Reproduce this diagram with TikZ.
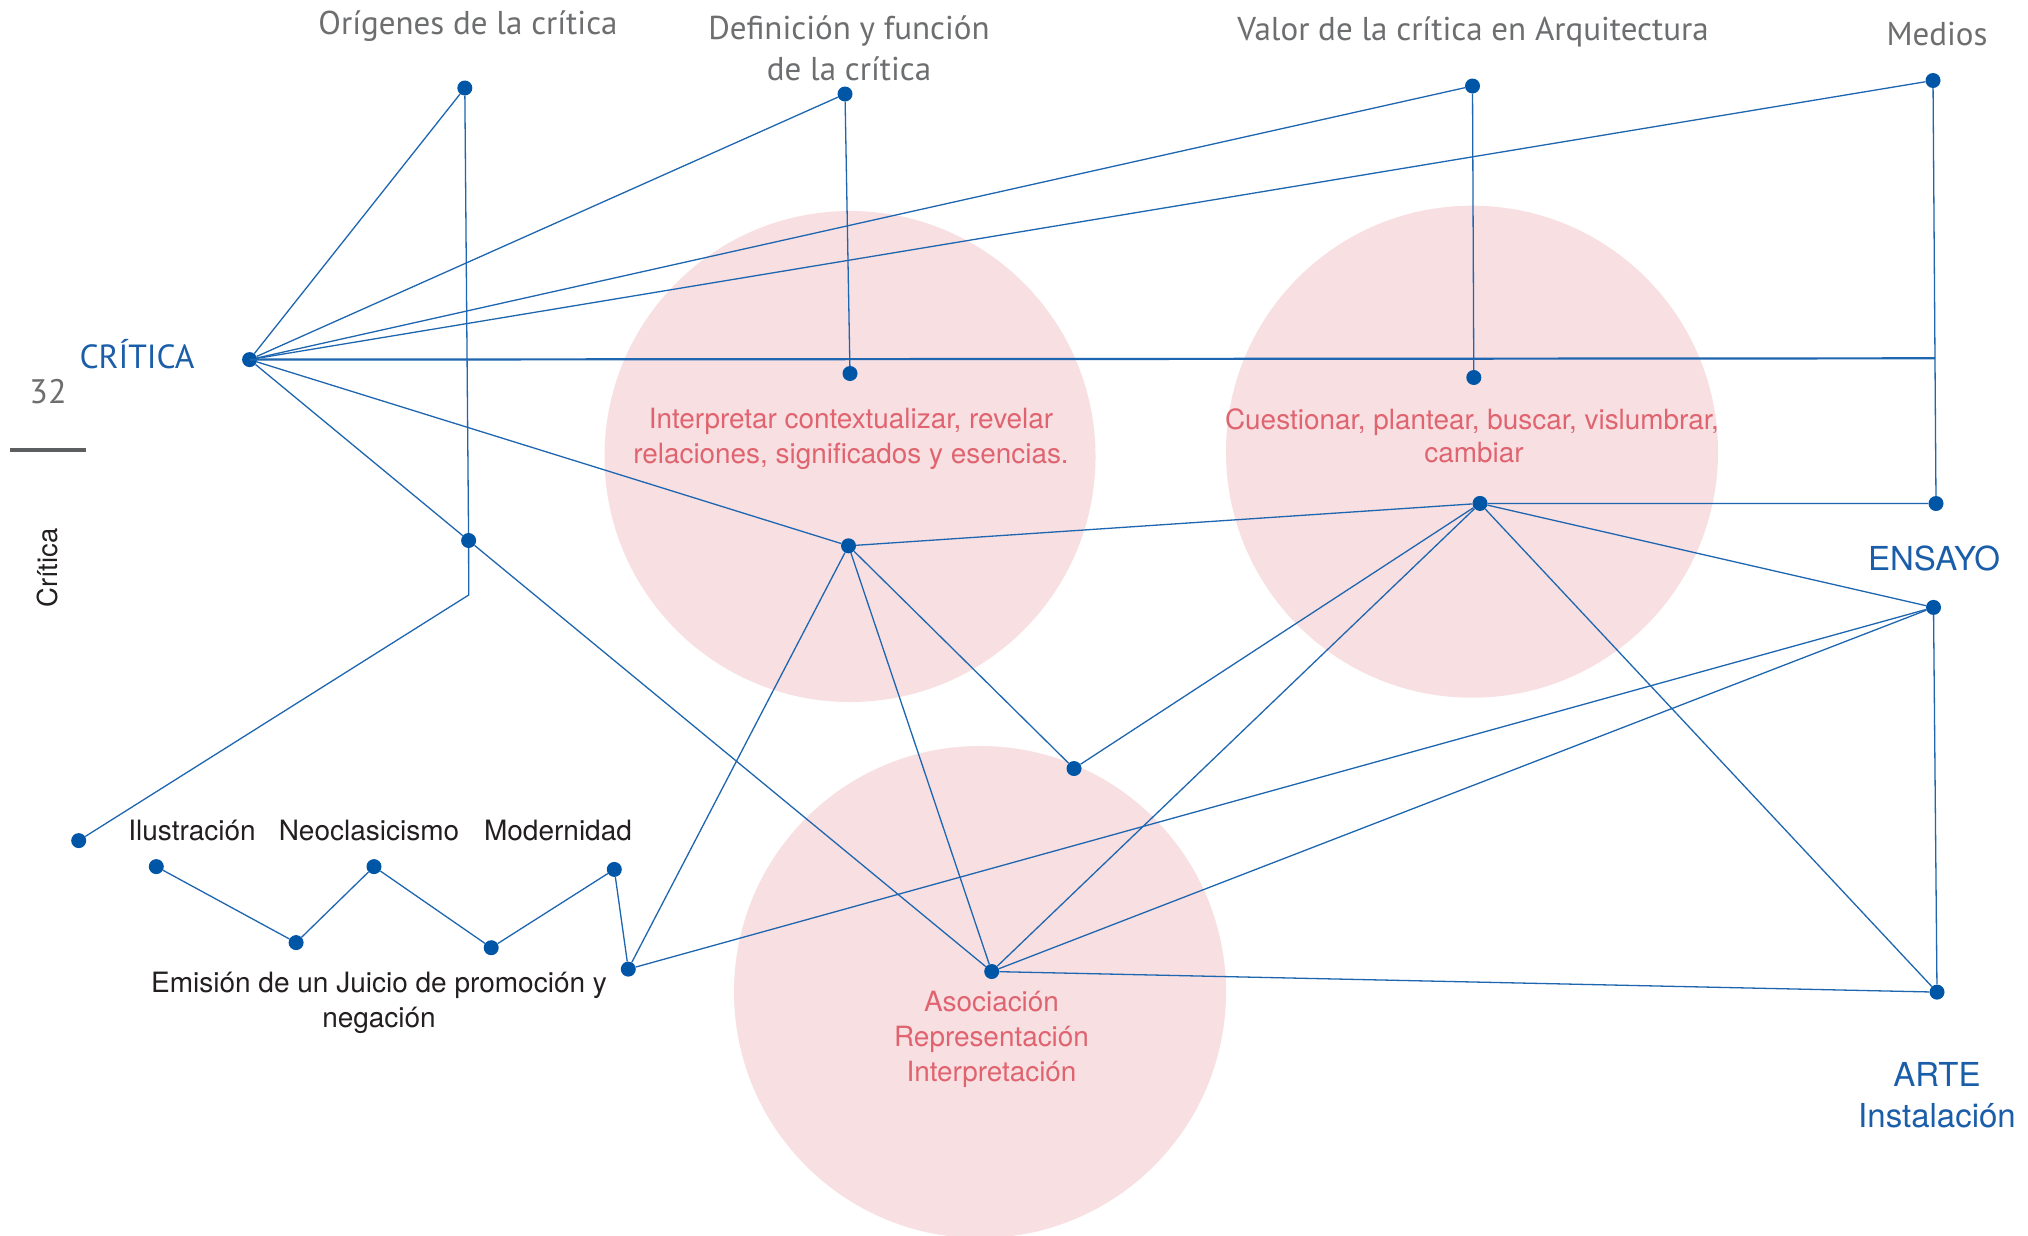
\documentclass[tikz,border=0pt]{standalone}
\usepackage{fontspec}
\setmainfont{TeX Gyre Heros}
\newfontfamily\myr{PT Sans}
\definecolor{lineblue}{HTML}{1E66B0}
\definecolor{dotblue}{HTML}{0056A6}
\definecolor{txtblue}{HTML}{1A5DA8}
\definecolor{titlegray}{HTML}{6D6E70}
\definecolor{pinkfill}{HTML}{F7DFE2}
\definecolor{pinktxt}{HTML}{E0646F}
\definecolor{bodytxt}{HTML}{231F20}
\tikzset{
  dot/.style={circle,fill=dotblue,inner sep=0pt,minimum size=15pt},
  link/.style={draw=lineblue,line width=1.3pt},
  mainlink/.style={draw=lineblue,line width=2.2pt},
  bubble/.style={fill=pinkfill},
  title/.style={anchor=base,inner sep=0pt,text=titlegray,font=\myr\fontsize{33}{39}\selectfont},
  bluebig/.style={anchor=base,inner sep=0pt,text=txtblue,font=\myr\fontsize{33.5}{39}\selectfont},
  bluelabel/.style={anchor=base,inner sep=0pt,text=txtblue,font=\fontsize{33}{39}\selectfont},
  bodylabel/.style={anchor=base,inner sep=0pt,text=bodytxt,font=\fontsize{28}{33}\selectfont},
  bubbletxt/.style={anchor=base,inner sep=0pt,text=pinktxt,font=\fontsize{27.9}{33}\selectfont}
}
\begin{document}
\begin{tikzpicture}[x=1pt,y=-1pt]
\useasboundingbox (0,0) rectangle (2028,1235);
\fill[white] (0,0) rectangle (2028,1235);

% circles
\fill[bubble] (850,456.5) circle (245.5);
\fill[bubble] (1472,451.7) circle (246);
\fill[bubble] (980,992) circle (246);

% page marks
\node[anchor=base,inner sep=0pt,text=titlegray,font=\myr\fontsize{34}{40}\selectfont] (pnum) at (48,403) {32};
\fill[titlegray!85!black] (10,448) rectangle (86,452);
\node[anchor=base,inner sep=0pt,rotate=90,text=bodytxt,font=\fontsize{27.5}{33}\selectfont] (sect) at (57,568) {Crítica};

% dots
\node[dot] (crit) at (249.6,359.6) {};
\node[dot] (orig) at (464.8,88) {};
\node[dot] (def) at (845,94) {};
\node[dot] (val) at (1472.5,86) {};
\node[dot] (med) at (1933,80.5) {};
\node[dot] (deflow) at (850,373.5) {};
\node[dot] (vallow) at (1473.8,377.5) {};
\node[dot] (medlow) at (1936,503.5) {};
\node[dot] (origmid) at (468.6,540.5) {};
\coordinate (bend) at (468.7,595);
\coordinate (hend) at (1935,358.3);
\node[dot] (leftdot) at (78.7,840.6) {};
\node[dot] (A) at (848.5,545.8) {};
\node[dot] (B) at (1480,503.4) {};
\node[dot] (C) at (1074,768.5) {};
\node[dot] (asoc) at (991.7,971.5) {};
\node[dot] (ens) at (1933.5,607.4) {};
\node[dot] (arte) at (1937,992.1) {};
\node[dot] (z1) at (156.3,866.6) {};
\node[dot] (z2) at (296.1,942.6) {};
\node[dot] (z3) at (374,866.6) {};
\node[dot] (z4) at (491.2,947.7) {};
\node[dot] (z5) at (614.3,869.4) {};
\node[dot] (em) at (628.3,969.1) {};

% connectors
\draw[mainlink] (crit.center) -- (hend);
\draw[link] (crit) -- (orig);
\draw[link] (crit) -- (def);
\draw[link] (crit) -- (val);
\draw[link] (crit) -- (med);
\draw[link] (crit) -- (origmid);
\draw[link] (origmid) -- (asoc);
\draw[link] (crit) -- (A);
\draw[link] (orig) -- (origmid);
\draw[link] (origmid) -- (bend) -- (leftdot);
\draw[link] (def) -- (deflow);
\draw[link] (val) -- (vallow);
\draw[link] (med) -- (medlow);
\draw[link] (A) -- (B);
\draw[link] (A) -- (em);
\draw[link] (A) -- (asoc);
\draw[link] (A) -- (C);
\draw[link] (B) -- (medlow);
\draw[link] (B) -- (ens);
\draw[link] (B) -- (C);
\draw[link] (B) -- (asoc);
\draw[link] (B) -- (arte);
\draw[link] (ens) -- (em);
\draw[link] (ens) -- (asoc);
\draw[link] (ens) -- (arte);
\draw[link] (asoc) -- (arte);
\draw[link] (z1) -- (z2) -- (z3) -- (z4) -- (z5) -- (em);

% titles
\node[title] (t1) at (468,34) {Orígenes de la crítica};
\node[title] (t2a) at (849,39) {Definición y función};
\node[title] (t2b) at (849,80) {de la crítica};
\node[title] (t3) at (1473,40) {Valor de la crítica en Arquitectura};
\node[title] (t4) at (1937,45) {Medios};

% blue labels
\node[bluebig] (lcrit) at (137,368) {CRÍTICA};
\node[bluelabel] (lens) at (1934,570) {ENSAYO};
\node[bluelabel] (larte) at (1937,1086.5) {ARTE};
\node[bluelabel] (linst) at (1937,1127.6) {Instalación};

% bubble texts
\node[bubbletxt] (b1a) at (851,428.5) {Interpretar contextualizar, revelar};
\node[bubbletxt] (b1b) at (851,463) {relaciones, significados y esencias.};
\node[bubbletxt] (b2a) at (1472,429) {Cuestionar, plantear, buscar, vislumbrar,};
\node[bubbletxt] (b2b) at (1474,462.5) {cambiar};
\node[bubbletxt] (b3a) at (991.5,1011) {Asociación};
\node[bubbletxt] (b3b) at (991.5,1046) {Representación};
\node[bubbletxt] (b3c) at (991.5,1081.5) {Interpretación};

% body labels
\node[bodylabel] (lilu) at (192,840) {Ilustración};
\node[bodylabel] (lneo) at (369,840) {Neoclasicismo};
\node[bodylabel] (lmod) at (558,840) {Modernidad};
\node[bodylabel] (lemi) at (379,992) {Emisión de un Juicio de promoción y};
\node[bodylabel] (lneg) at (379,1027) {negación};
\end{tikzpicture}
\end{document}
